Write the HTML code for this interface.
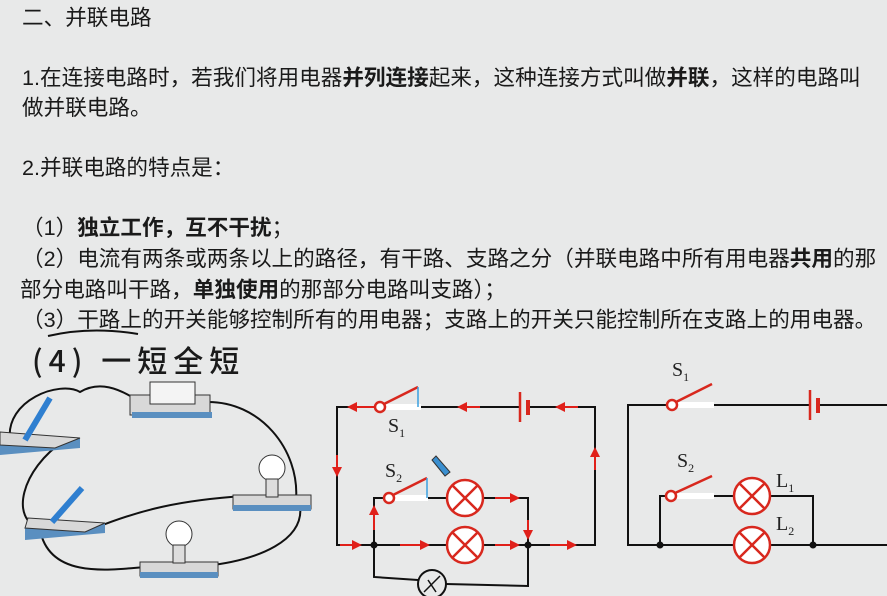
<!DOCTYPE html>
<html><head><meta charset="utf-8">
<style>
html,body{margin:0;padding:0}
body{width:887px;height:596px;overflow:hidden;background:#e8e9e9;position:relative;font-family:"Liberation Sans","Noto Sans CJK SC",sans-serif;color:#1a1a1a}
.t{position:absolute;left:22px;font-size:21.6px;white-space:nowrap;line-height:24px}
b{font-weight:bold}
svg{position:absolute;left:0;top:0}
</style></head><body>
<div class="t" style="top:6px">二、并联电路</div>
<div class="t" style="top:66px">1.在连接电路时，若我们将用电器<b>并列连接</b>起来，这种连接方式叫做<b>并联</b>，这样的电路叫</div>
<div class="t" style="top:96px">做并联电路。</div>
<div class="t" style="top:156px">2.并联电路的特点是：</div>
<div class="t" style="top:216px">（1）<b>独立工作，互不干扰</b>；</div>
<div class="t" style="top:247px">（2）电流有两条或两条以上的路径，有干路、支路之分（并联电路中所有用电器<b>共用</b>的那</div>
<div class="t" style="top:278px;left:20px">部分电路叫干路，<b>单独使用</b>的那部分电路叫支路）；</div>
<div class="t" style="top:308px">（3）干路上的开关能够控制所有的用电器；支路上的开关只能控制所在支路上的用电器。</div>
<div class="t" style="top:342px;left:32px;font-size:30px;line-height:34px;font-family:'Noto Sans CJK SC',sans-serif;font-weight:500;letter-spacing:6px">(4) 一短全短</div>
<svg width="887" height="596" viewBox="0 0 887 596">
<defs>
<marker id="a" viewBox="0 0 10 10" refX="5" refY="5" markerWidth="5" markerHeight="5" orient="auto"><path d="M0,0L10,5L0,10z" fill="#e0201a"/></marker>
</defs>
<path d="M48,336 Q90,326 138,334" stroke="#111" stroke-width="2" fill="none"/>
<g stroke="#111" stroke-width="2" fill="none">
<path d="M385,407H337V545H595V407H528M520,407H421"/>
<path d="M374,545V498H384M427,498H446M484,498H528V545"/>
<path d="M374,545V577L418,580M446,584L528,586V545"/>
</g>
<rect x="385" y="404" width="36" height="6" fill="#fff"/>
<rect x="394" y="495" width="34" height="6" fill="#fff"/>
<g stroke="#d8281e" stroke-width="2.5" fill="none">
<circle cx="380" cy="407" r="5" fill="#fff"/><path d="M384,404L418,387"/>
<circle cx="389" cy="498" r="5" fill="#fff"/><path d="M393,495L427,478"/>
<path d="M520,392V422" stroke-width="2.5"/><path d="M528,400V415" stroke-width="4"/>
<circle cx="465" cy="498" r="18" fill="#fff"/><path d="M452,485L478,511M478,485L452,511"/>
<circle cx="465" cy="545" r="18" fill="#fff"/><path d="M452,532L478,558M478,532L452,558"/>
</g>
<path d="M418,387V407M427,478V498" stroke="#3aa0e0" stroke-width="1.5"/>
<circle cx="432" cy="584" r="14" fill="none" stroke="#111" stroke-width="2"/>
<path d="M424,592L440,576M428,580L436,592" stroke="#111" stroke-width="1.5"/>
<circle cx="374" cy="545" r="3.5" fill="#111"/><circle cx="528" cy="545" r="3.5" fill="#111"/>
<g stroke="#e0201a" stroke-width="2" marker-end="url(#a)">
<path d="M375,407H352"/><path d="M480,407H462"/><path d="M578,407H560"/>
<path d="M337,455V472"/><path d="M595,470V452"/>
<path d="M340,545H357"/><path d="M400,545H425"/><path d="M495,545H515"/><path d="M550,545H572"/>
<path d="M374,530V510"/><path d="M495,498H515"/><path d="M528,520V535"/>
</g>
<path d="M436,456L450,472L445,476L432,460z" fill="#3a8fd0" stroke="#333" stroke-width="1"/>
<text x="388" y="432" font-family="Liberation Serif" font-size="20" fill="#222">S<tspan font-size="12" dy="5">1</tspan></text>
<text x="385" y="477" font-family="Liberation Serif" font-size="20" fill="#222">S<tspan font-size="12" dy="5">2</tspan></text>
<g stroke="#111" stroke-width="2" fill="none">
<path d="M677,405H628V545H887M714,405H810M818,405H887"/>
<path d="M660,545V496H667M714,496H733M771,496H813V545"/>
</g>
<rect x="677" y="402" width="37" height="6" fill="#fff"/>
<rect x="676" y="493" width="38" height="6" fill="#fff"/>
<g stroke="#d8281e" stroke-width="2.5" fill="none">
<circle cx="672" cy="405" r="5" fill="#fff"/><path d="M676,402L712,384"/>
<circle cx="671" cy="496" r="5" fill="#fff"/><path d="M675,493L712,476"/>
<path d="M810,390V420"/><path d="M818,398V413" stroke-width="4"/>
<circle cx="752" cy="496" r="18" fill="#fff"/><path d="M739,483L765,509M765,483L739,509"/>
<circle cx="752" cy="545" r="18" fill="#fff"/><path d="M739,532L765,558M765,532L739,558"/>
</g>
<circle cx="660" cy="545" r="3.5" fill="#111"/><circle cx="813" cy="545" r="3.5" fill="#111"/>
<g font-family="Liberation Serif" font-size="20" fill="#222">
<text x="672" y="376">S<tspan font-size="12" dy="5">1</tspan></text>
<text x="677" y="467">S<tspan font-size="12" dy="5">2</tspan></text>
<text x="776" y="487">L<tspan font-size="12" dy="5">1</tspan></text>
<text x="776" y="530">L<tspan font-size="12" dy="5">2</tspan></text>
</g>
<g stroke="#111" stroke-width="2" fill="none">
<path d="M10,440C5,400 60,380 80,392C100,380 120,390 132,397"/>
<path d="M205,402C260,400 300,450 296,500"/>
<path d="M65,440C20,470 10,520 40,528"/>
<path d="M95,528C140,510 180,500 245,496"/>
<path d="M40,530C50,580 110,570 155,566"/>
<path d="M205,566C260,560 305,540 300,505"/>
</g>
<g>
<path d="M0,445L55,440L80,438L80,448L0,455z" fill="#5a8fc0"/><path d="M0,432L80,438L55,448L0,445z" fill="#d8d8d8" stroke="#333"/>
<path d="M25,440L50,398" stroke="#2f7fd0" stroke-width="6"/>
<path d="M25,528L80,524L105,523L105,533L25,540z" fill="#5a8fc0"/><path d="M28,518L105,523L85,532L25,528z" fill="#d8d8d8" stroke="#333"/>
<path d="M52,522L82,488" stroke="#2f7fd0" stroke-width="6"/>
<rect x="130" y="395" width="80" height="20" fill="#d8d8d8" stroke="#333"/><rect x="132" y="412" width="80" height="6" fill="#5a8fc0"/>
<rect x="150" y="382" width="45" height="22" fill="#f4f4f4" stroke="#333"/>
<rect x="140" y="562" width="78" height="14" fill="#d8d8d8" stroke="#333"/><rect x="140" y="572" width="78" height="6" fill="#5a8fc0"/>
<circle cx="179" cy="534" r="13" fill="#fff" stroke="#333"/><rect x="173" y="545" width="12" height="18" fill="#ddd" stroke="#333"/>
<rect x="233" y="495" width="78" height="14" fill="#d8d8d8" stroke="#333"/><rect x="233" y="505" width="78" height="6" fill="#5a8fc0"/>
<circle cx="272" cy="468" r="13" fill="#fff" stroke="#333"/><rect x="266" y="479" width="12" height="18" fill="#ddd" stroke="#333"/>
</g>
</svg>
</body></html>
